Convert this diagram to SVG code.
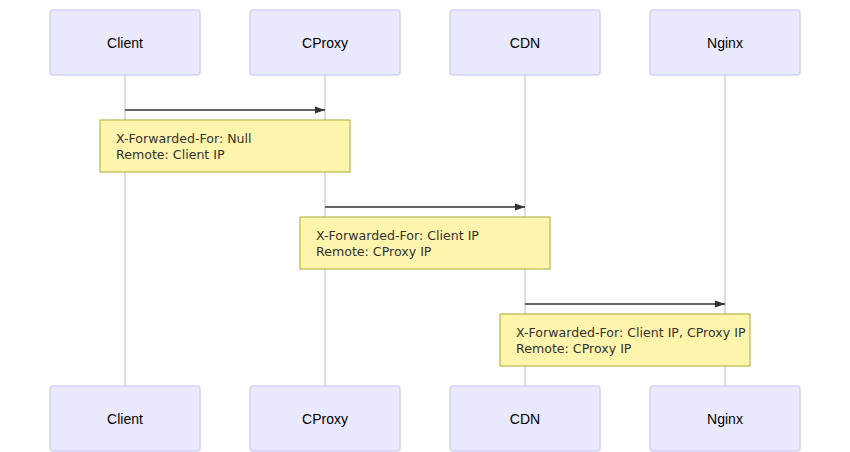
<svg xmlns="http://www.w3.org/2000/svg" width="850" height="452" viewBox="0 0 850 452">
<style>
.actor{fill:#eaeaff;stroke:#d2d2fa;stroke-width:1.5}
.atext{font-family:"Liberation Sans",Arial,sans-serif;font-size:14px;fill:#000;text-anchor:middle;dominant-baseline:central}
.life{stroke:#d3d3d3;stroke-width:1.5}
.msg{stroke:#333;stroke-width:1.5;fill:none}
.note{fill:#fff5ad;stroke:#aaaa33;stroke-width:1}
.ntext{font-family:"DejaVu Sans",Verdana,sans-serif;font-size:12.6px;fill:#333}
</style>
<defs>
<marker id="arrow" viewBox="0 0 10 10" refX="10" refY="5" markerWidth="10" markerHeight="10" markerUnits="userSpaceOnUse" orient="auto">
<path d="M0,1.5 L10,5 L0,8.5 z" fill="#333"/>
</marker>
</defs>
<g id="lifelines">
<line class="life" x1="125" y1="75" x2="125" y2="386"/>
<line class="life" x1="325" y1="75" x2="325" y2="386"/>
<line class="life" x1="525" y1="75" x2="525" y2="386"/>
<line class="life" x1="725" y1="75" x2="725" y2="386"/>
</g>
<g id="actor-client-top"><rect class="actor" x="50" y="10" width="150" height="65" rx="3"/><text class="atext" x="125" y="43">Client</text></g>
<g id="actor-cproxy-top"><rect class="actor" x="250" y="10" width="150" height="65" rx="3"/><text class="atext" x="325" y="43">CProxy</text></g>
<g id="actor-cdn-top"><rect class="actor" x="450" y="10" width="150" height="65" rx="3"/><text class="atext" x="525" y="43">CDN</text></g>
<g id="actor-nginx-top"><rect class="actor" x="650" y="10" width="150" height="65" rx="3"/><text class="atext" x="725" y="43">Nginx</text></g>
<g id="actor-client-bottom"><rect class="actor" x="50" y="386" width="150" height="65" rx="3"/><text class="atext" x="125" y="419">Client</text></g>
<g id="actor-cproxy-bottom"><rect class="actor" x="250" y="386" width="150" height="65" rx="3"/><text class="atext" x="325" y="419">CProxy</text></g>
<g id="actor-cdn-bottom"><rect class="actor" x="450" y="386" width="150" height="65" rx="3"/><text class="atext" x="525" y="419">CDN</text></g>
<g id="actor-nginx-bottom"><rect class="actor" x="650" y="386" width="150" height="65" rx="3"/><text class="atext" x="725" y="419">Nginx</text></g>
<g id="connectors">
<line class="msg" x1="125" y1="110" x2="325" y2="110" marker-end="url(#arrow)"/>
<line class="msg" x1="325" y1="207" x2="525" y2="207" marker-end="url(#arrow)"/>
<line class="msg" x1="525" y1="304" x2="725" y2="304" marker-end="url(#arrow)"/>
</g>
<g id="note1"><rect class="note" x="100" y="120" width="250" height="52"/><text class="ntext" x="116" y="143">X-Forwarded-For: Null</text><text class="ntext" x="116" y="159">Remote: Client IP</text></g>
<g id="note2"><rect class="note" x="300" y="217" width="250" height="52"/><text class="ntext" x="316" y="240">X-Forwarded-For: Client IP</text><text class="ntext" x="316" y="256">Remote: CProxy IP</text></g>
<g id="note3"><rect class="note" x="500" y="314" width="250" height="52"/><text class="ntext" x="516" y="337">X-Forwarded-For: Client IP, CProxy IP</text><text class="ntext" x="516" y="353">Remote: CProxy IP</text></g>
</svg>
